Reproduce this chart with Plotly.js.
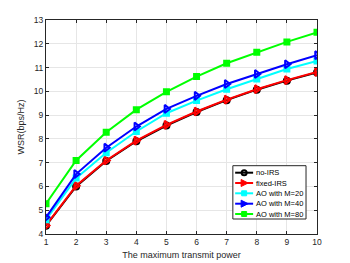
<!DOCTYPE html>
<html><head><meta charset="utf-8">
<script src="https://cdn.plot.ly/plotly-3.0.1.min.js"></script>
<style>html,body{margin:0;padding:0;background:#fff}#chart{width:350px;height:263px}</style>
</head><body><div id="chart"></div>
<script>
const power = [1,2,3,4,5,6,7,8,9,10];
const noIRS = [4.35,6.00,7.07,7.90,8.56,9.13,9.63,10.07,10.45,10.79];
const fixedIRS = [4.36,6.03,7.09,7.93,8.59,9.15,9.65,10.09,10.47,10.82];
const aoM20 = [4.60,6.35,7.42,8.31,9.08,9.61,10.09,10.52,10.94,11.28];
const aoM40 = [4.70,6.52,7.63,8.52,9.26,9.81,10.31,10.73,11.14,11.52];
const aoM80 = [5.27,7.09,8.28,9.23,9.98,10.62,11.18,11.64,12.08,12.48];
const names = ['no-IRS','fixed-IRS','AO with M=20','AO with M=40','AO with M=80'];
const colors = ['#000000','#ff0000','#00ffff','#0000ff','#00ff00'];
const symbols = ['circle-open','triangle-right-open','square','triangle-right-open','square'];
const sizes = [6,7,5,7,5];

const FONT = 'Liberation Sans';
const series = [noIRS, fixedIRS, aoM20, aoM40, aoM80];

const traces = series.map((ys, i) => ({
  x: power, y: ys, name: names[i], mode:'lines+markers',
  line:{color:colors[i], width:2},
  marker:{symbol:symbols[i], size:sizes[i], color:colors[i], line:{width:2, color:colors[i]}},
  showlegend:false
}));

const L = 45.5, R = 317, T = 20, B = 234;
const px = v => (v - L) / (R - L);
const py = v => (B - v) / (B - T);

const box = {x0:232.7, x1:306, y0:165.7, y1:219};
const rows = [172.7, 183.0, 193.3, 203.7, 214.0];
const shapes = [{type:'rect', xref:'paper', yref:'paper', layer:'above',
  x0:px(box.x0), x1:px(box.x1), y0:py(box.y1), y1:py(box.y0),
  fillcolor:'#ffffff', line:{color:'#262626', width:1}}];
const annotations = [];
names.forEach((n, i) => {
  const yc = py(rows[i]);
  shapes.push({type:'line', xref:'paper', yref:'paper', layer:'above',
    x0:px(235), x1:px(253), y0:yc, y1:yc, line:{color:colors[i], width:2}});
  const m = {xref:'paper', yref:'paper', layer:'above', xsizemode:'pixel', ysizemode:'pixel',
    xanchor:px(244), yanchor:yc};
  if (symbols[i].indexOf('circle') === 0) {
    Object.assign(m, {type:'circle', x0:-2.5, x1:2.5, y0:-2.5, y1:2.5, fillcolor:'rgba(0,0,0,0)',
      line:{color:colors[i], width:2}});
  } else if (symbols[i].indexOf('square') === 0) {
    Object.assign(m, {type:'rect', x0:-2.5, x1:2.5, y0:-2.5, y1:2.5, fillcolor:colors[i],
      line:{color:colors[i], width:1}});
  } else {
    Object.assign(m, {type:'path', path:'M -3 -3.5 L 4 0 L -3 3.5 Z', fillcolor:colors[i],
      line:{color:colors[i], width:1}});
  }
  shapes.push(m);
  annotations.push({xref:'paper', yref:'paper', x:px(255), y:yc, text:n, showarrow:false,
    xanchor:'left', yanchor:'middle', borderpad:0,
    font:{family:FONT, size:7.5, color:'#000'}});
});

const axisCommon = {
  showline:true, mirror:'ticks', linecolor:'#262626', linewidth:1,
  ticks:'inside', ticklen:3, tickcolor:'#262626',
  showgrid:true, gridcolor:'#e6e6e6', gridwidth:1, zeroline:false,
  tickfont:{family:FONT, size:8.5, color:'#262626'}
};

const layout = {
  width:350, height:263,
  margin:{l:L, r:350 - R, t:T, b:263 - B},
  paper_bgcolor:'#ffffff', plot_bgcolor:'#ffffff',
  showlegend:false,
  shapes: shapes,
  annotations: annotations,
  xaxis: Object.assign({}, axisCommon, {range:[1,10], dtick:1, tick0:1,
    title:{text:'The maximum transmit power', standoff:5,
      font:{family:FONT, size:9, color:'#262626'}}}),
  yaxis: Object.assign({}, axisCommon, {range:[4,13], dtick:1, tick0:4,
    title:{text:'WSR(bps/Hz)', standoff:7,
      font:{family:FONT, size:9, color:'#262626'}}})
};

Plotly.newPlot('chart', traces, layout, {displayModeBar:false, staticPlot:true});
</script></body></html>
